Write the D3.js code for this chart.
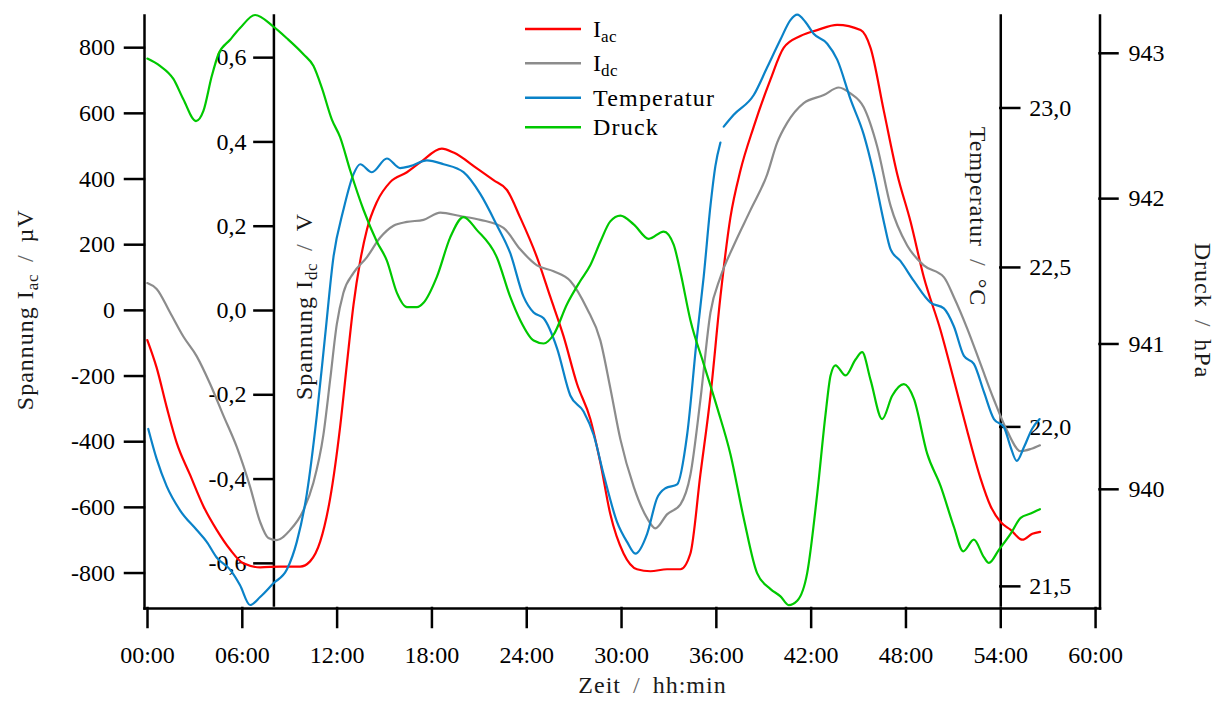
<!DOCTYPE html>
<html>
<head>
<meta charset="utf-8">
<script src="https://cdn.jsdelivr.net/npm/d3@7"></script>
<style>
  body { margin: 0; background: #fff; }
  svg { display: block; }
  svg text { font-family: "Liberation Serif", "DejaVu Serif", "Times New Roman", Times, serif; }
  .axis path, .axis line { stroke: #000; stroke-width: 2.5; stroke-linecap: square; }
  .axis text { font-size: 24px; fill: #000; }
  .title { font-size: 24px; fill: #1a1a1a; letter-spacing: 1px; }
  .title .sep { fill: #666; }
  .series { fill: none; stroke-width: 2.2; stroke-linejoin: round; stroke-linecap: round; }
</style>
</head>
<body>
<svg id="chart" width="1218" height="702"></svg>
<script>
// Zeitachse in Stunden seit Messbeginn
const timeTicks = [0, 6, 12, 18, 24, 30, 36, 42, 48, 54, 60];
const iacTicks = [-800, -600, -400, -200, 0, 200, 400, 600, 800];
const idcTicks = [-0.6, -0.4, -0.2, 0, 0.2, 0.4, 0.6];
const tempTicks = [21.5, 22.0, 22.5, 23.0];
const druckTicks = [940, 941, 942, 943];

// I_ac in µV
const iacTime = [0.02,0.61,1.25,1.88,2.72,3.57,4.41,5.26,6.10,7.16,8.42,9.69,10.32,10.96,11.59,12.22,12.65,13.07,13.49,13.92,14.55,15.39,16.45,17.29,18.66,19.40,20.88,21.93,22.78,23.62,24.68,25.52,26.36,27.21,28.06,28.69,29.32,30.16,31.01,31.86,32.91,33.76,34.39,35.02,35.66,36.29,36.92,37.56,38.40,39.46,40.29,41.35,42.41,43.68,45.16,45.79,46.63,47.48,48.32,49.16,50.22,51.06,51.91,52.75,53.39,54.02,54.66,55.40,56.03,56.52];
const iacValues = [-92,-176,-297,-405,-502,-598,-670,-730,-772,-784,-782,-782,-766,-706,-574,-357,-165,16,148,245,329,389,419,449,491,479,431,395,365,281,160,40,-80,-225,-333,-465,-622,-742,-790,-796,-790,-790,-742,-502,-261,40,281,425,558,702,798,834,852,868,852,798,606,413,269,100,-62,-213,-369,-513,-598,-646,-670,-700,-682,-676];

// I_dc in V
const idcTime = [0.02,0.61,1.46,2.30,3.15,3.99,4.83,5.68,6.52,7.16,7.68,8.21,9.06,9.90,10.53,11.16,11.59,12.01,12.43,13.07,13.91,14.76,15.60,16.45,17.50,18.56,19.82,21.09,22.56,23.62,24.68,25.73,26.79,27.85,28.69,29.32,29.96,30.80,31.65,32.17,32.91,33.76,34.39,35.02,35.66,36.29,37.13,38.19,39.25,39.88,40.51,41.56,42.83,43.78,44.52,45.36,46.21,47.06,48.11,49.16,50.43,51.06,51.91,52.75,53.60,54.45,55.29,55.92,56.51];
const idcValues = [0.064,0.050,-0.006,-0.063,-0.110,-0.175,-0.250,-0.325,-0.419,-0.503,-0.541,-0.546,-0.522,-0.475,-0.410,-0.297,-0.166,-0.034,0.041,0.088,0.125,0.172,0.200,0.209,0.214,0.231,0.223,0.214,0.195,0.144,0.106,0.092,0.069,0.003,-0.072,-0.185,-0.307,-0.419,-0.494,-0.518,-0.485,-0.461,-0.391,-0.214,-0.006,0.078,0.153,0.237,0.322,0.397,0.444,0.491,0.510,0.528,0.514,0.481,0.388,0.247,0.153,0.106,0.078,0.031,-0.044,-0.128,-0.213,-0.288,-0.335,-0.330,-0.321];

// Temperatur in °C (null = fehlender Messwert)
const tempTime = [0.08,0.61,1.25,2.09,3.15,3.78,4.41,5.26,5.89,6.52,7.16,8.00,8.85,9.48,10.11,10.75,11.27,11.80,12.43,13.07,13.49,14.23,15.18,16.02,16.66,17.71,18.77,20.03,21.09,22.15,22.99,23.83,24.47,25.10,25.95,26.79,27.63,28.27,28.90,29.75,30.38,30.91,31.65,32.28,32.81,33.55,34.18,34.81,35.23,35.66,35.97,36.29,36.40,36.50,37.13,38.40,39.25,40.09,40.72,41.15,41.67,42.19,43.05,43.68,44.52,45.36,46.00,46.63,47.06,47.69,48.53,49.59,50.43,51.06,51.70,52.33,52.96,53.60,54.23,54.65,55.04,55.51,56.01,56.49];
const tempValues = [21.992,21.898,21.812,21.737,21.675,21.638,21.589,21.551,21.502,21.440,21.465,21.508,21.551,21.638,21.787,22.035,22.283,22.531,22.679,22.791,22.822,22.797,22.840,22.810,22.816,22.834,22.822,22.797,22.729,22.630,22.543,22.407,22.357,22.339,22.245,22.097,22.047,21.973,21.849,21.700,21.638,21.601,21.663,21.775,21.806,21.818,21.973,22.283,22.469,22.692,22.816,22.890,null,22.940,22.977,23.039,23.126,23.213,23.274,23.291,23.268,23.231,23.200,23.150,23.026,22.915,22.791,22.642,22.555,22.518,22.456,22.388,22.370,22.314,22.221,22.196,22.109,22.023,21.998,21.936,21.892,21.936,21.992,22.023];

// Luftdruck in hPa
const druckTime = [0.02,0.82,1.67,2.30,3.10,3.57,4.10,4.52,5.26,5.89,6.84,8.00,8.85,9.90,10.53,11.06,11.70,12.22,12.86,13.70,14.55,15.18,15.81,16.45,17.08,17.50,18.35,19.19,20.03,20.88,22.15,22.99,23.62,24.47,25.10,25.73,26.58,27.42,28.06,28.69,29.32,29.96,30.80,31.75,32.70,33.33,33.76,34.39,35.23,36.08,36.92,37.76,38.61,39.46,40.09,40.61,41.15,41.78,42.41,42.94,43.26,43.57,44.21,44.84,45.26,45.79,46.53,47.16,47.90,48.53,49.38,50.22,51.06,51.65,52.33,52.96,53.28,53.91,54.65,55.29,55.92,56.51];
const druckValues = [942.96,942.91,942.82,942.68,942.53,942.60,942.84,942.99,943.09,943.17,943.26,943.18,943.10,942.99,942.91,942.76,942.54,942.42,942.19,941.92,941.70,941.57,941.35,941.25,941.25,941.28,941.46,941.73,941.87,941.78,941.59,941.32,941.16,941.02,941.00,941.06,941.27,941.43,941.54,941.70,941.84,941.88,941.82,941.72,941.77,941.68,941.49,941.16,940.86,940.56,940.24,939.80,939.42,939.31,939.26,939.20,939.23,939.42,939.96,940.51,940.78,940.85,940.78,940.89,940.94,940.75,940.48,940.64,940.72,940.62,940.24,940.02,939.74,939.57,939.65,939.53,939.49,939.58,939.69,939.80,939.83,939.86];

const svg = d3.select("#chart");

const plotLeft = 144, plotRight = 1099.5, plotTop = 15, plotBottom = 608, innerBottom = 605;

const x = d3.scaleLinear().domain([-0.19, 60.28]).range([plotLeft, plotRight]);
const yAc = d3.scaleLinear().domain([-908, 898]).range([plotBottom, plotTop]);
const yDc = d3.scaleLinear().domain([-0.7, 0.7]).range([innerBottom, plotTop]);
const yTemp = d3.scaleLinear().domain([21.44, 23.29]).range([innerBottom, plotTop]);
const yDruck = d3.scaleLinear().domain([939.18, 943.26]).range([plotBottom, plotTop]);

const comma1 = d => (d < -1e-9 ? "-" : "") + Math.abs(d).toFixed(1).replace(".", ",");
const hhmm = h => String(h).padStart(2, "0") + ":00";

// Achsen
svg.append("g").attr("class", "axis")
  .attr("transform", `translate(${plotLeft},0)`)
  .call(d3.axisLeft(yAc).tickValues(iacTicks).tickSize(19).tickSizeOuter(0).tickPadding(10)
    .tickFormat(d => (d < 0 ? "-" : "") + Math.abs(d)));

svg.append("g").attr("class", "axis")
  .attr("transform", `translate(${x(8)},0)`)
  .call(d3.axisLeft(yDc).tickValues(idcTicks).tickSize(19).tickSizeOuter(0).tickPadding(8)
    .tickFormat(comma1));

svg.append("g").attr("class", "axis")
  .attr("transform", `translate(${x(54)},0)`)
  .call(d3.axisRight(yTemp).tickValues(tempTicks).tickSize(19).tickSizeOuter(0).tickPadding(10)
    .tickFormat(comma1));

svg.append("g").attr("class", "axis")
  .attr("transform", `translate(${plotRight},0)`)
  .call(d3.axisRight(yDruck).tickValues(druckTicks).tickSize(18).tickSizeOuter(0).tickPadding(11)
    .tickFormat(d => String(d)));

svg.append("g").attr("class", "axis")
  .attr("transform", `translate(0,${plotBottom})`)
  .call(d3.axisBottom(x).tickValues(timeTicks).tickSize(19).tickSizeOuter(0).tickPadding(19)
    .tickFormat(hhmm));

// d3-axis setzt eine eigene Schrift am Gruppenelement; hier die Serifenschrift erzwingen
svg.selectAll(".axis").attr("font-family", null).attr("font-size", null);

// Achsentitel mit Index
function title(tx, ty, rot, main, sub, unit) {
  const t = svg.append("text").attr("class", "title")
    .attr("transform", `translate(${tx},${ty}) rotate(${rot})`)
    .attr("text-anchor", "middle");
  t.append("tspan").text(main);
  if (sub) {
    t.append("tspan").attr("font-size", 17).attr("dy", 5).attr("letter-spacing", 0.5).text(sub);
    t.append("tspan").attr("class", "sep").attr("dy", -5).attr("dx", 12).text("/");
  } else {
    t.append("tspan").attr("class", "sep").attr("dx", 12).text("/");
  }
  t.append("tspan").attr("dx", 12).text(unit);
}
title(33, 309.7, -90, "Spannung I", "ac", "µV");
title(312, 306.5, -90, "Spannung I", "dc", "V");
title(969.5, 216.5, 90, "Temperatur", null, "°C");
title(1195, 310.5, 90, "Druck", null, "hPa");
title(652.5, 693, 0, "Zeit", null, "hh:min");

// Messkurven
const series = [
  { name: "I", sub: "ac", color: "#ff0000", t: iacTime, v: iacValues, y: yAc },
  { name: "I", sub: "dc", color: "#8c8c8c", t: idcTime, v: idcValues, y: yDc },
  { name: "Temperatur", sub: null, color: "#0a82c8", t: tempTime, v: tempValues, y: yTemp },
  { name: "Druck", sub: null, color: "#00c800", t: druckTime, v: druckValues, y: yDruck }
];

series.forEach(s => {
  const pts = s.t.map((t, i) => [t, s.v[i]]);
  const line = d3.line()
    .defined(d => d[1] !== null)
    .x(d => x(d[0]))
    .y(d => s.y(d[1]))
    .curve(d3.curveMonotoneX);
  svg.append("path").attr("class", "series")
    .attr("stroke", s.color)
    .attr("d", line(pts));
});

// Legende
const legendRows = [29, 63.3, 97.7, 127.3];
const legend = svg.append("g");
series.forEach((s, i) => {
  const ly = legendRows[i];
  legend.append("line")
    .attr("x1", 525).attr("x2", 581).attr("y1", ly).attr("y2", ly)
    .attr("stroke", s.color).attr("stroke-width", 2.5);
  const t = legend.append("text").attr("x", 593).attr("y", ly + 8)
    .attr("font-size", 24).attr("letter-spacing", s.sub ? 0 : 1.2).attr("fill", "#000");
  t.append("tspan").text(s.name);
  if (s.sub) t.append("tspan").attr("font-size", 17).attr("dy", 5).attr("letter-spacing", 0.5).text(s.sub);
});
</script>
</body>
</html>
